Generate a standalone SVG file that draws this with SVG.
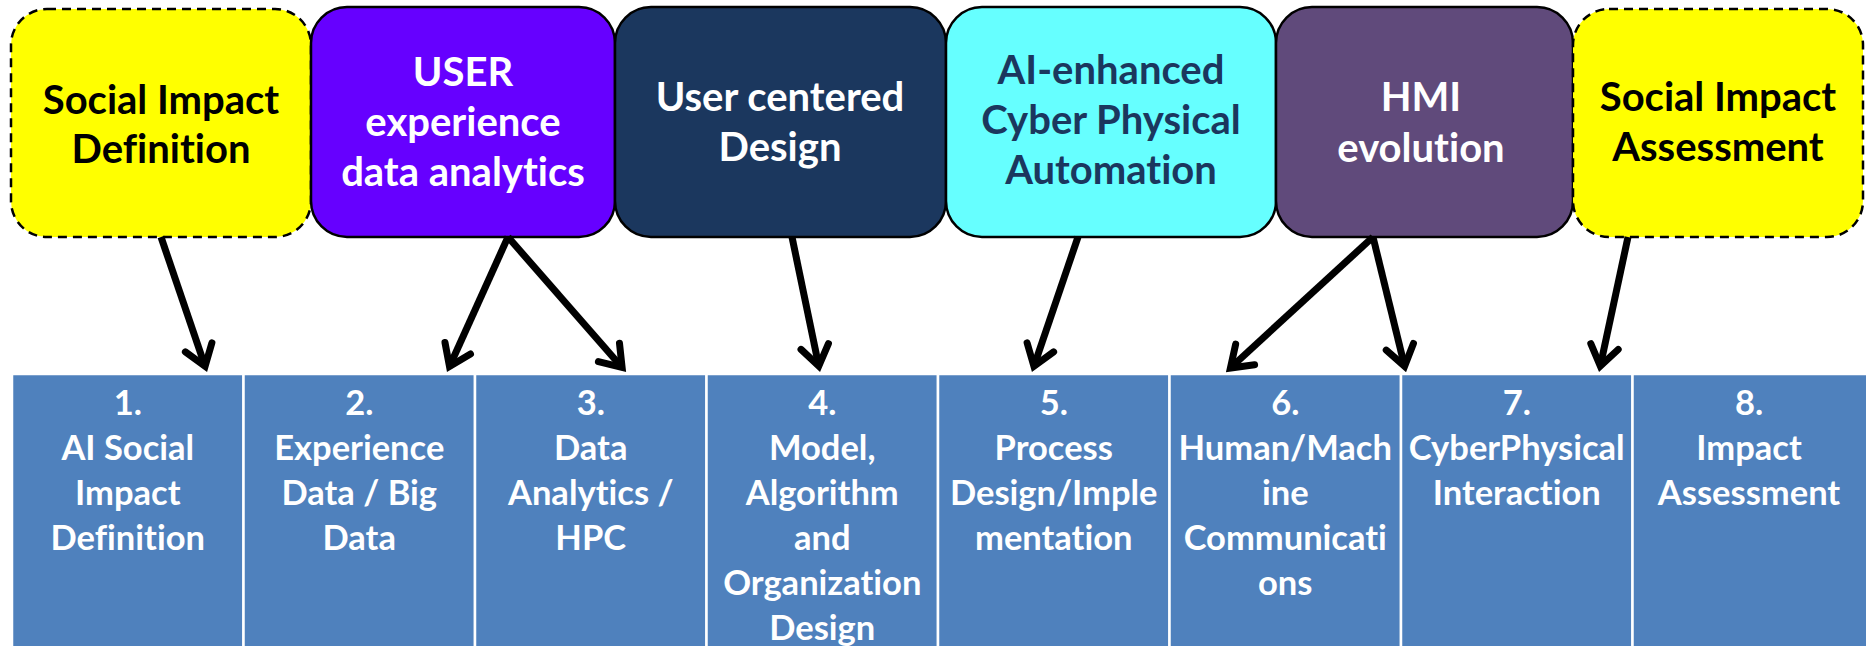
<svg xmlns="http://www.w3.org/2000/svg" width="1866" height="646" viewBox="0 0 1866 646">
<defs>
<style>
.top{stroke:#000;stroke-width:2.5}
.dash{stroke-dasharray:9 6}
.tt{font-family:Lato,"Liberation Sans",sans-serif;font-weight:bold;font-size:40px;text-anchor:middle;font-variant-ligatures:none;font-feature-settings:"liga" 0,"clig" 0}
.bb{fill:#4F81BD;stroke:#fff;stroke-width:2.5}
.bt{font-family:Lato,"Liberation Sans",sans-serif;font-weight:bold;font-size:34.5px;text-anchor:middle;fill:#fff;font-variant-ligatures:none;font-feature-settings:"liga" 0,"clig" 0}
.con{stroke:#000;stroke-width:7;fill:none;marker-end:url(#ah)}
</style>
<marker id="ah" markerUnits="userSpaceOnUse" viewBox="-40 -25 50 50" markerWidth="50" markerHeight="50" refX="-5" refY="0" orient="auto" overflow="visible">
<path d="M-25,-14 L-5,0 L-25,14" fill="none" stroke="#000" stroke-width="7" stroke-linecap="round" stroke-linejoin="miter"/>
</marker>
</defs>
<rect width="1866" height="646" fill="#fff"/>

<g id="top1">
<rect class="top dash" x="11" y="9" width="300" height="228" rx="36" fill="#FFFF00"/>
<text class="tt" fill="#000"><tspan x="161" y="114">Social Impact</tspan><tspan x="161" y="163">Definition</tspan></text>
</g>
<g id="top2">
<rect class="top" x="311" y="7" width="304" height="230" rx="36" fill="#6600FF"/>
<text class="tt" fill="#fff"><tspan x="463" y="86">USER</tspan><tspan x="463" y="136">experience</tspan><tspan x="463" y="186">data analytics</tspan></text>
</g>
<g id="top3">
<rect class="top" x="615" y="7" width="331" height="230" rx="36" fill="#1B375E"/>
<text class="tt" fill="#fff"><tspan x="780" y="111">User centered</tspan><tspan x="780" y="161">Design</tspan></text>
</g>
<g id="top4">
<rect class="top" x="946" y="7" width="330" height="230" rx="36" fill="#66FFFF"/>
<text class="tt" fill="#1B375E"><tspan x="1111" y="84">AI-enhanced</tspan><tspan x="1111" y="134">Cyber Physical</tspan><tspan x="1111" y="184">Automation</tspan></text>
</g>
<g id="top5">
<rect class="top" x="1276" y="7" width="297" height="230" rx="36" fill="#604A7B"/>
<text class="tt" fill="#fff"><tspan x="1421" y="111">HMI</tspan><tspan x="1421" y="162">evolution</tspan></text>
</g>
<g id="top6">
<rect class="top dash" x="1573" y="9" width="290" height="228" rx="36" fill="#FFFF00"/>
<text class="tt" fill="#000"><tspan x="1718" y="111">Social Impact</tspan><tspan x="1718" y="161">Assessment</tspan></text>
</g>

<g id="b1">
<rect class="bb" x="12" y="374" width="231.5" height="280"/>
<text class="bt"><tspan x="127.75" y="415">1.</tspan><tspan x="127.75" y="460">AI Social</tspan><tspan x="127.75" y="505">Impact</tspan><tspan x="127.75" y="550">Definition</tspan></text>
</g>
<g id="b2">
<rect class="bb" x="243.5" y="374" width="231.5" height="280"/>
<text class="bt"><tspan x="359.25" y="415">2.</tspan><tspan x="359.25" y="460">Experience</tspan><tspan x="359.25" y="505">Data / Big</tspan><tspan x="359.25" y="550">Data</tspan></text>
</g>
<g id="b3">
<rect class="bb" x="475" y="374" width="231.5" height="280"/>
<text class="bt"><tspan x="590.75" y="415">3.</tspan><tspan x="590.75" y="460">Data</tspan><tspan x="590.75" y="505">Analytics /</tspan><tspan x="590.75" y="550">HPC</tspan></text>
</g>
<g id="b4">
<rect class="bb" x="706.5" y="374" width="231.5" height="280"/>
<text class="bt"><tspan x="822.25" y="415">4.</tspan><tspan x="822.25" y="460">Model,</tspan><tspan x="822.25" y="505">Algorithm</tspan><tspan x="822.25" y="550">and</tspan><tspan x="822.25" y="595">Organization</tspan><tspan x="822.25" y="640">Design</tspan></text>
</g>
<g id="b5">
<rect class="bb" x="938" y="374" width="231.5" height="280"/>
<text class="bt"><tspan x="1053.75" y="415">5.</tspan><tspan x="1053.75" y="460">Process</tspan><tspan x="1053.75" y="505">Design/Imple</tspan><tspan x="1053.75" y="550">mentation</tspan></text>
</g>
<g id="b6">
<rect class="bb" x="1169.5" y="374" width="231.5" height="280"/>
<text class="bt"><tspan x="1285.25" y="415">6.</tspan><tspan x="1285.25" y="460">Human/Mach</tspan><tspan x="1285.25" y="505">ine</tspan><tspan x="1285.25" y="550">Communicati</tspan><tspan x="1285.25" y="595">ons</tspan></text>
</g>
<g id="b7">
<rect class="bb" x="1401" y="374" width="231.5" height="280"/>
<text class="bt"><tspan x="1516.75" y="415">7.</tspan><tspan x="1516.75" y="460">CyberPhysical</tspan><tspan x="1516.75" y="505">Interaction</tspan></text>
</g>
<g id="b8">
<rect class="bb" x="1632.5" y="374" width="235" height="280"/>
<text class="bt"><tspan x="1749" y="415">8.</tspan><tspan x="1749" y="460">Impact</tspan><tspan x="1749" y="505">Assessment</tspan></text>
</g>

<g id="connectors">
<line class="con" x1="161" y1="237" x2="205.1" y2="366.3"/>
<line class="con" x1="508" y1="237" x2="449.5" y2="366.5"/>
<line class="con" x1="508" y1="237" x2="622.1" y2="367.5"/>
<line class="con" x1="792" y1="237" x2="818.8" y2="366.1"/>
<line class="con" x1="1078" y1="237" x2="1033.9" y2="366.3"/>
<line class="con" x1="1373" y1="237" x2="1230.4" y2="368"/>
<line class="con" x1="1373" y1="237" x2="1404.6" y2="366.2"/>
<line class="con" x1="1628" y1="237" x2="1600.3" y2="366.1"/>
</g>
</svg>
